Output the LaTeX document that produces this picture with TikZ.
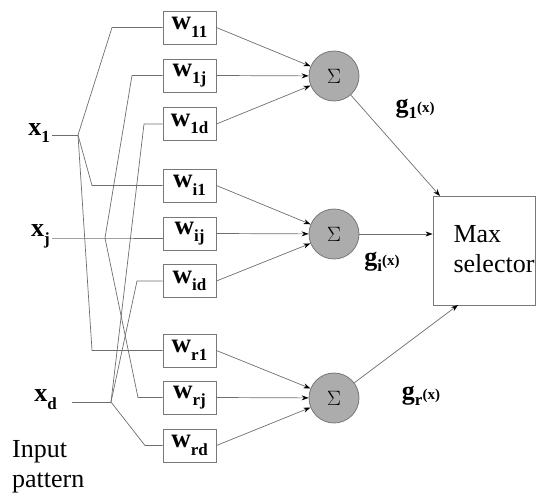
\documentclass[tikz,border=0pt]{standalone}
\usepackage{fontspec}
\setmainfont{Liberation Serif}
\usetikzlibrary{arrows.meta}
\definecolor{linegray}{RGB}{110,110,110}
\definecolor{boxgray}{RGB}{120,120,120}
\definecolor{sumfill}{RGB}{172,172,172}
\newcommand{\wlab}[1]{\bfseries w\raisebox{-0.28em}{\fontsize{17}{18}\selectfont\bfseries #1}}
\newcommand{\xlab}[1]{\bfseries x\raisebox{-0.3em}{\fontsize{17}{18}\selectfont\bfseries #1}}
\newcommand{\glab}[1]{\bfseries g\raisebox{-0.25em}{\fontsize{17}{18}\selectfont\bfseries #1}{\fontsize{15}{16}\selectfont\bfseries (x)}}
\begin{document}
\begin{tikzpicture}[x=1pt,y=-1pt,
  wbox/.style={draw=boxgray,line width=0.9pt,minimum width=53pt,minimum height=33pt,inner sep=0pt,font=\fontsize{27}{28}\selectfont},
  sumnode/.style={circle,draw=boxgray,fill=sumfill,line width=0.8pt,minimum size=50pt,inner sep=0pt,font=\fontsize{21}{22}\selectfont},
  wire/.style={draw=linegray,line width=0.7pt},
  arr/.style={draw=linegray,line width=0.7pt,-{Stealth[length=7pt,width=5pt,black]}},
  lab/.style={font=\fontsize{26}{28}\selectfont,inner sep=0pt},
  txt/.style={font=\fontsize{26}{30}\selectfont,inner sep=0pt,align=left}]
\useasboundingbox (0,0) rectangle (536,496);
% weight boxes
\node[wbox] (w11) at (189.5,27.5) {\wlab{11}};
\node[wbox] (w1j) at (189.5,75.5) {\wlab{1j}};
\node[wbox] (w1d) at (189.5,124) {\wlab{1d}};
\node[wbox] (wi1) at (189.5,185.5) {\wlab{i1}};
\node[wbox] (wij) at (189.5,233.5) {\wlab{ij}};
\node[wbox] (wid) at (189.5,281) {\wlab{id}};
\node[wbox] (wr1) at (189.5,350.5) {\wlab{r1}};
\node[wbox] (wrj) at (189.5,397.5) {\wlab{rj}};
\node[wbox] (wrd) at (189.5,445.5) {\wlab{rd}};
% sums
\node[sumnode] (s1) at (334,76) {$\Sigma$};
\node[sumnode] (s2) at (334,234) {$\Sigma$};
\node[sumnode] (s3) at (334,398) {$\Sigma$};
% max selector
\node[draw=boxgray,line width=0.9pt,minimum width=102pt,minimum height=109pt,inner sep=0pt] (max) at (484,250.5) {};
\node[txt] (maxt) at (494,249) {Max\\selector};
% input labels
\node[lab,anchor=east] (x1) at (50,133) {\xlab{1}};
\node[lab,anchor=east] (xj) at (50,236) {\xlab{j}};
\node[lab,anchor=east] (xd) at (57,400) {\xlab{d}};
\node[txt,anchor=west] (inp) at (12,467) {Input\\pattern};
% junctions and bends
\coordinate (x1s) at (52,135);
\coordinate (j1) at (78,135);
\coordinate (xjs) at (52,238);
\coordinate (jj) at (105,238);
\coordinate (xds) at (72,402);
\coordinate (jd) at (111,402);
\coordinate (b11) at (112,27.5);
\coordinate (bi1) at (92,185.5);
\coordinate (br1) at (92,350.5);
\coordinate (b1j) at (132,75.5);
\coordinate (brj) at (138,397.5);
\coordinate (b1d) at (144,124);
\coordinate (bid) at (137,281);
\coordinate (brd) at (145,445.5);
% x1 wiring
\draw[wire] (x1s) -- (j1);
\draw[wire] (j1) -- (b11) -- (w11.west);
\draw[wire] (j1) -- (bi1) -- (wi1.west);
\draw[wire] (j1) -- (br1) -- (wr1.west);
% xj wiring
\draw[wire] (xjs) -- (jj) -- (jj -| wij.west);
\draw[wire] (jj) -- (b1j) -- (w1j.west);
\draw[wire] (jj) -- (brj) -- (wrj.west);
% xd wiring
\draw[wire] (xds) -- (jd);
\draw[wire] (jd) -- (b1d) -- (w1d.west);
\draw[wire] (jd) -- (bid) -- (wid.west);
\draw[wire] (jd) -- (brd) -- (wrd.west);
% weights to sums
\draw[arr] (w11.east) -- (s1);
\draw[arr] (w1j.east) -- (s1);
\draw[arr] (w1d.east) -- (s1);
\draw[arr] (wi1.east) -- (s2);
\draw[arr] (wij.east) -- (s2);
\draw[arr] (wid.east) -- (s2);
\draw[arr] (wr1.east) -- (s3);
\draw[arr] (wrj.east) -- (s3);
\draw[arr] (wrd.east) -- (s3);
% sums to max selector
\coordinate (m1) at (440,196);
\coordinate (m3) at (458,305);
\draw[arr] (s1) -- (m1);
\draw[arr] (s2) -- (s2 -| max.west);
\draw[arr] (s3) -- (m3);
% output labels
\node[lab] (g1) at (415,109) {\glab{1}};
\node[lab] (gi) at (382,262) {\glab{i}};
\node[lab] (gr) at (421,396) {\glab{r}};
\end{tikzpicture}
\end{document}
